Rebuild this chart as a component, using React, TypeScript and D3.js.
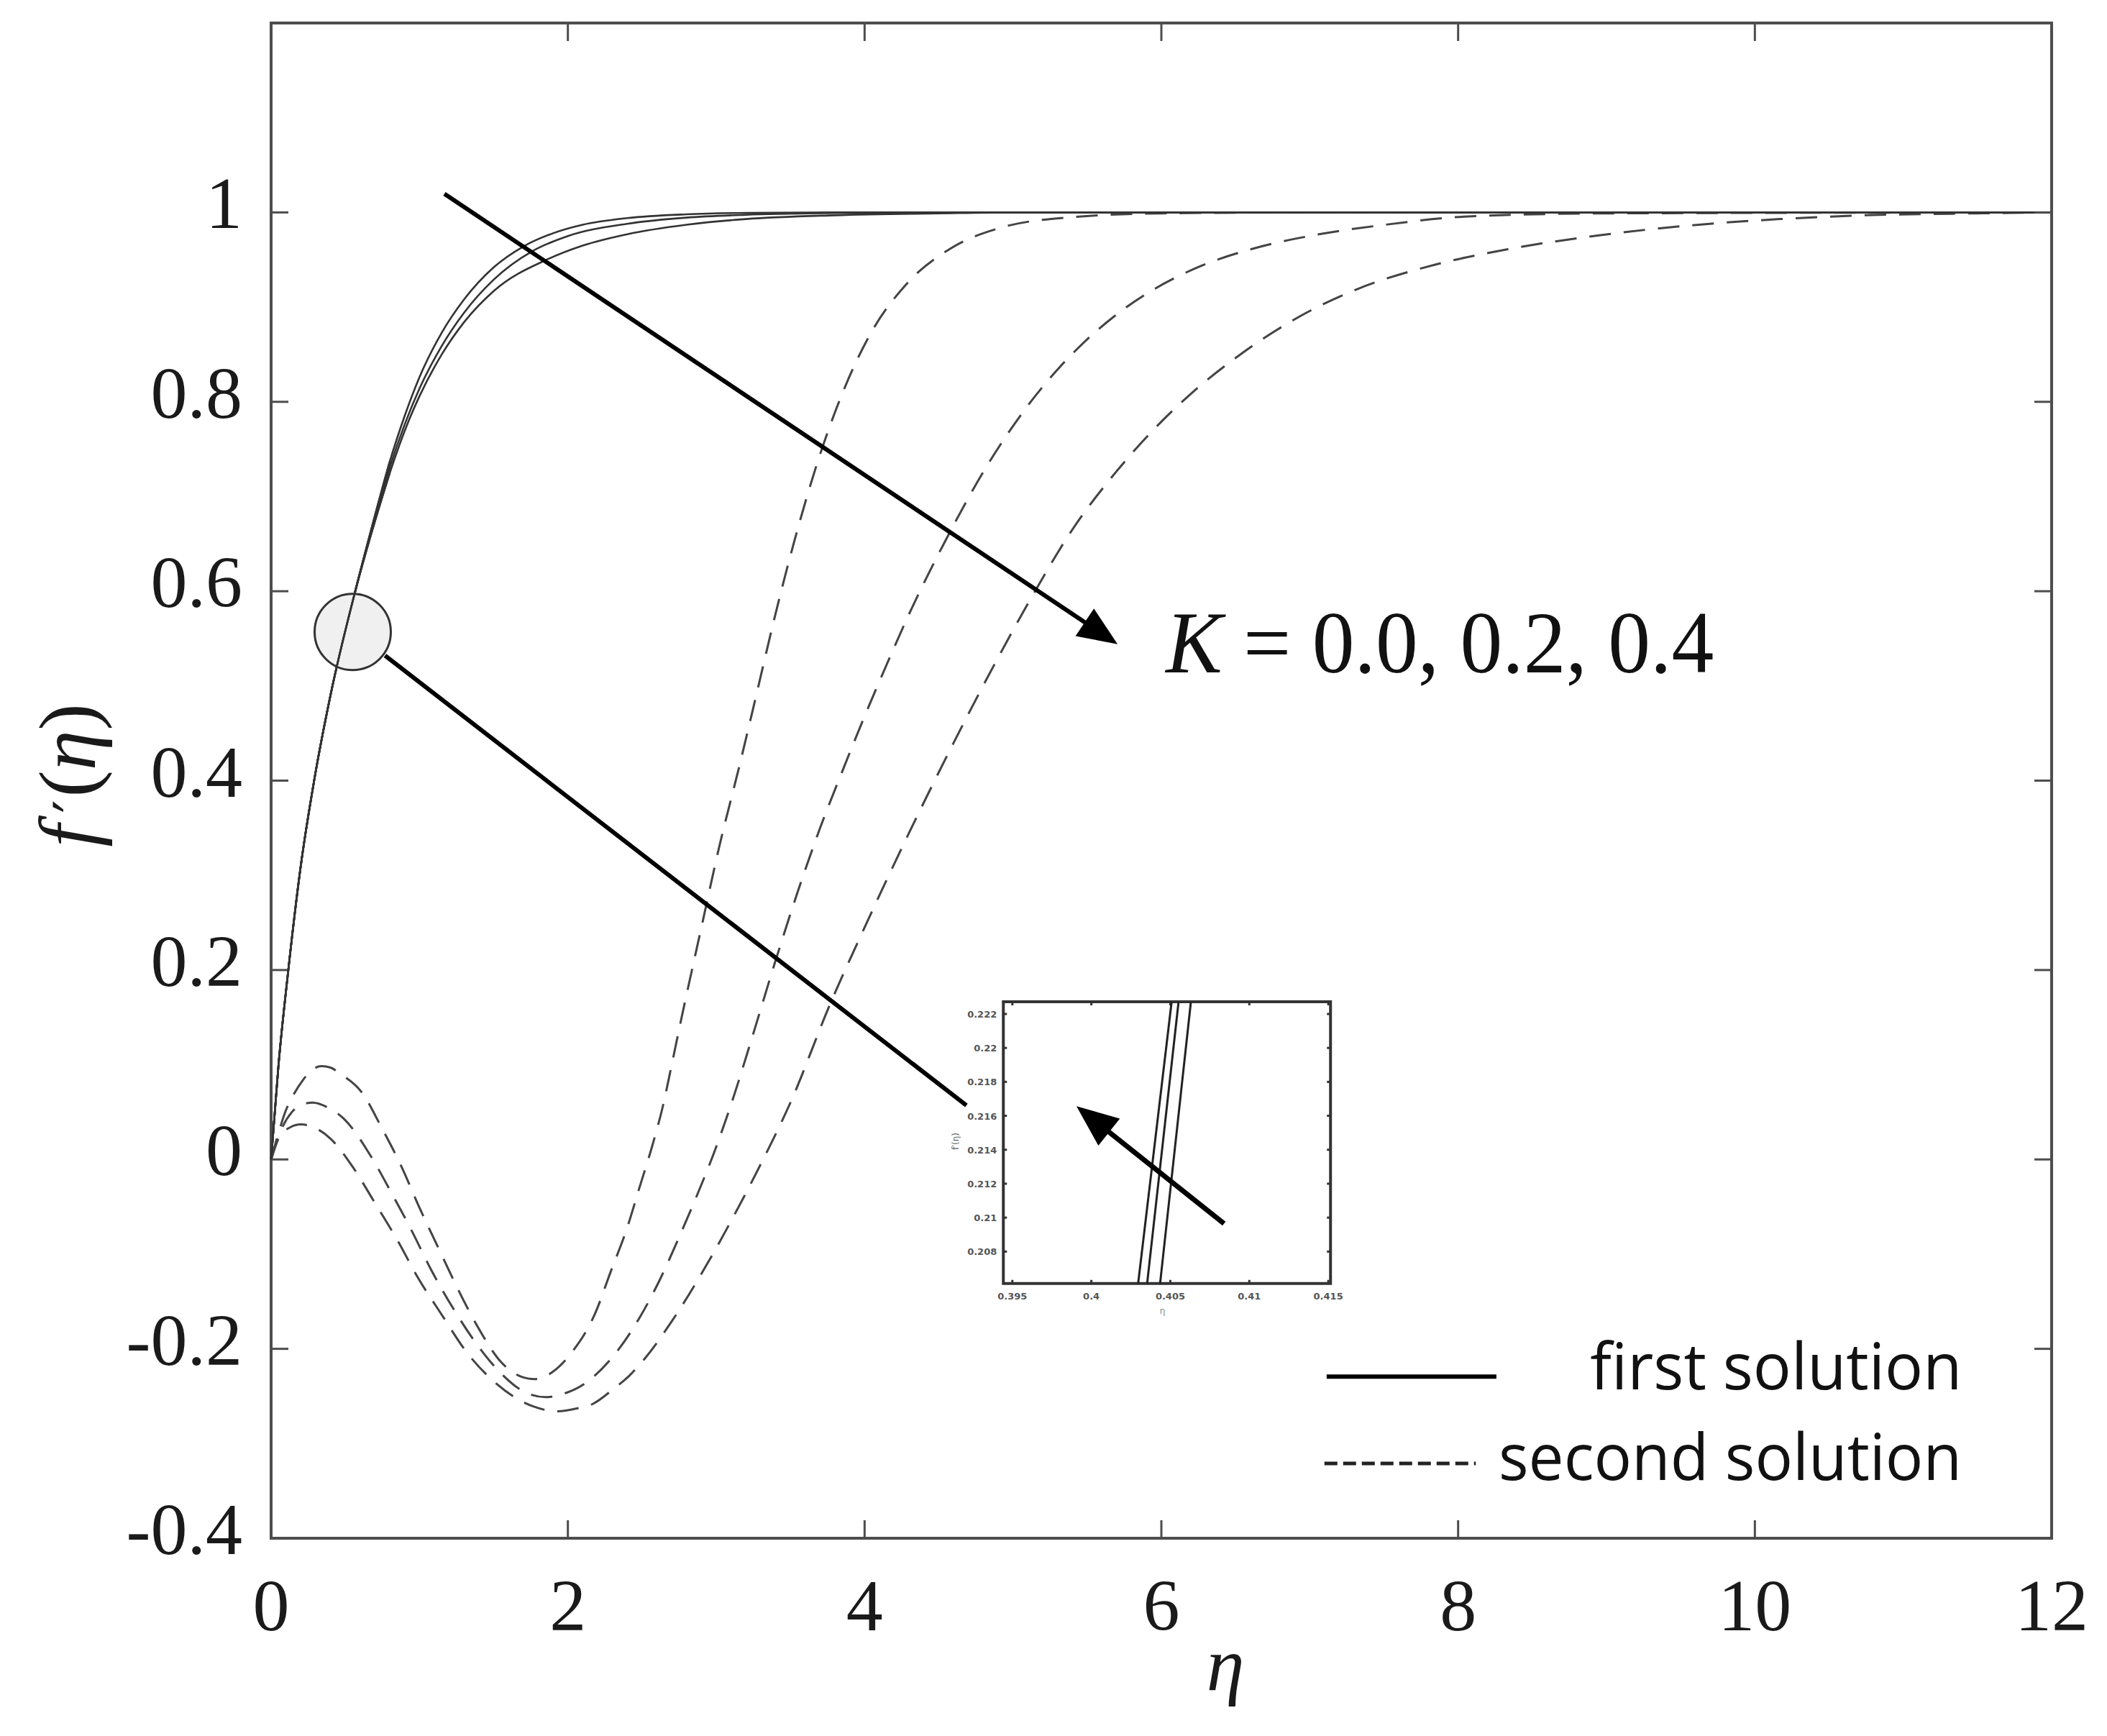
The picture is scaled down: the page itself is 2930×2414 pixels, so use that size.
import React from 'react';
import * as d3 from 'd3';

// ---------- axis ticks ----------
const xTicks = [0, 2, 4, 6, 8, 10, 12];
const xTickLabels = ['0', '2', '4', '6', '8', '10', '12'];
const yTicks = [-0.4, -0.2, 0, 0.2, 0.4, 0.6, 0.8, 1];
const yTickLabels = ['-0.4', '-0.2', '0', '0.2', '0.4', '0.6', '0.8', '1'];

// ---------- first solution (solid), K = 0.0, 0.2, 0.4 ----------
const etaFirstK0 = [0, 0.05, 0.116, 0.2, 0.29, 0.4, 0.567, 0.7, 0.8, 0.9, 1.0, 1.15, 1.3, 1.5, 1.7, 1.9, 2.1, 2.4, 2.8, 3.2, 3.8, 12];
const fFirstK0 = [0, 0.1, 0.2, 0.31, 0.4, 0.49, 0.6, 0.68, 0.737, 0.785, 0.826, 0.873, 0.908, 0.942, 0.964, 0.978, 0.987, 0.994, 0.998, 0.9995, 1, 1];
const etaFirstK2 = [0, 0.05, 0.116, 0.2, 0.29, 0.4, 0.567, 0.7, 0.8, 0.9, 1.0, 1.15, 1.3, 1.5, 1.76, 2.0, 2.4, 2.8, 3.2, 3.8, 4.5, 12];
const fFirstK2 = [0, 0.1, 0.2, 0.31, 0.4, 0.49, 0.6, 0.677, 0.731, 0.776, 0.814, 0.859, 0.894, 0.929, 0.959, 0.975, 0.988, 0.9945, 0.9975, 0.9993, 1, 1];
const etaFirstK4 = [0, 0.05, 0.116, 0.2, 0.29, 0.4, 0.567, 0.7, 0.8, 0.93, 1.0, 1.15, 1.3, 1.5, 1.87, 2.1, 2.4, 2.8, 3.2, 3.8, 4.5, 5, 12];
const fFirstK4 = [0, 0.1, 0.2, 0.31, 0.4, 0.49, 0.6, 0.674, 0.725, 0.781, 0.806, 0.85, 0.884, 0.917, 0.951, 0.965, 0.977, 0.987, 0.993, 0.997, 0.999, 1, 1];

// ---------- second solution (dashed), K = 0.0, 0.2, 0.4 ----------
const etaSecondK0 = [0, 0.05, 0.1, 0.15, 0.22, 0.28, 0.34, 0.4, 0.47, 0.61, 0.75, 0.88, 1.0, 1.12, 1.25, 1.39, 1.55, 1.68, 1.78, 1.9, 2.03, 2.18, 2.29, 2.4, 2.48, 2.57, 2.64, 2.7, 2.76, 2.9, 3.02, 3.16, 3.28, 3.39, 3.53, 3.67, 3.84, 4.04, 4.28, 4.58, 4.92, 5.4, 6.0, 7, 12];
const fSecondK0 = [0, 0.028, 0.052, 0.068, 0.085, 0.095, 0.0985, 0.097, 0.09, 0.071, 0.032, -0.008, -0.051, -0.091, -0.134, -0.176, -0.214, -0.229, -0.232, -0.224, -0.203, -0.164, -0.118, -0.072, -0.031, 0.015, 0.056, 0.1, 0.145, 0.245, 0.33, 0.418, 0.497, 0.57, 0.655, 0.73, 0.805, 0.872, 0.924, 0.962, 0.984, 0.995, 0.999, 1, 1];
const etaSecondK2 = [0, 0.07, 0.14, 0.21, 0.28, 0.38, 0.49, 0.67, 0.81, 0.95, 1.08, 1.23, 1.39, 1.55, 1.69, 1.85, 1.98, 2.12, 2.32, 2.48, 2.62, 2.75, 2.87, 2.98, 3.1, 3.25, 3.39, 3.55, 3.7, 3.85, 4.0, 4.15, 4.3, 4.55, 4.8, 5.1, 5.44, 5.68, 5.92, 6.26, 6.6, 7.03, 7.51, 8.04, 9, 12];
const fSecondK2 = [0, 0.032, 0.05, 0.058, 0.06, 0.055, 0.043, 0.004, -0.035, -0.076, -0.117, -0.158, -0.196, -0.226, -0.244, -0.251, -0.247, -0.236, -0.205, -0.168, -0.127, -0.082, -0.038, 0.005, 0.058, 0.133, 0.205, 0.283, 0.35, 0.41, 0.468, 0.523, 0.576, 0.655, 0.726, 0.796, 0.857, 0.89, 0.916, 0.943, 0.961, 0.976, 0.987, 0.9955, 0.999, 1];
const etaSecondK4 = [0, 0.06, 0.13, 0.2, 0.3, 0.4, 0.546, 0.7, 0.85, 0.99, 1.15, 1.315, 1.52, 1.77, 1.93, 2.06, 2.17, 2.31, 2.41, 2.52, 2.7, 2.94, 3.1, 3.3, 3.5, 3.77, 4.0, 4.3, 4.6, 4.9, 5.13, 5.4, 5.7, 6.0, 6.21, 6.55, 6.93, 7.32, 7.85, 8.33, 8.96, 9.58, 10.17, 10.74, 11.5, 12];
const fSecondK4 = [0, 0.025, 0.034, 0.037, 0.033, 0.022, -0.007, -0.046, -0.085, -0.125, -0.164, -0.203, -0.237, -0.261, -0.266, -0.263, -0.258, -0.242, -0.229, -0.21, -0.171, -0.11, -0.065, -0.005, 0.06, 0.165, 0.245, 0.345, 0.44, 0.53, 0.595, 0.665, 0.727, 0.779, 0.81, 0.852, 0.89, 0.919, 0.945, 0.961, 0.976, 0.9865, 0.993, 0.997, 0.999, 1];

// ---------- inset (zoom of first solutions) ----------
const insetXTicks = [0.395, 0.4, 0.405, 0.41, 0.415];
const insetXTickLabels = ['0.395', '0.4', '0.405', '0.41', '0.415'];
const insetYTicks = [0.222, 0.22, 0.218, 0.216, 0.214, 0.212, 0.21, 0.208];
const insetYTickLabels = ['0.222', '0.22', '0.218', '0.216', '0.214', '0.212', '0.21', '0.208'];
const insetEtaK0 = [0.40296, 0.40508];
const insetEtaK2 = [0.40353, 0.40552];
const insetEtaK4 = [0.40435, 0.4063];
const insetF = [0.2061, 0.2227];

const W = 2930;
const H = 2414;
const PL = 377, PR = 2853, PT = 32, PB = 2139;

function Arrow({ x1, y1, x2, y2, width, headLen, headW }: any) {
  const dx = x2 - x1, dy = y2 - y1;
  const len = Math.hypot(dx, dy);
  const ux = dx / len, uy = dy / len;
  const px = -uy, py = ux;
  const bx = x2 - ux * headLen, by = y2 - uy * headLen;
  return (
    <g>
      <line x1={x1} y1={y1} x2={bx + ux * 4} y2={by + uy * 4} stroke="#000" strokeWidth={width} />
      <polygon points={`${x2},${y2} ${bx + px * headW},${by + py * headW} ${bx - px * headW},${by - py * headW}`} fill="#000" />
    </g>
  );
}

export default function App() {
  const x = d3.scaleLinear().domain([0, 12]).range([PL, PR]);
  const y = d3.scaleLinear().domain([-0.4, 1.2]).range([PB, PT]);
  const line = d3.line<[number, number]>().x(d => x(d[0])).y(d => y(d[1])).curve(d3.curveMonotoneX);
  const zip = (a: number[], b: number[]) => a.map((v, i) => [v, b[i]] as [number, number]);

  const firsts = [zip(etaFirstK0, fFirstK0), zip(etaFirstK2, fFirstK2), zip(etaFirstK4, fFirstK4)];
  const seconds = [zip(etaSecondK0, fSecondK0), zip(etaSecondK2, fSecondK2), zip(etaSecondK4, fSecondK4)];

  // inset placement in main-axis coordinates
  const ix = d3.scaleLinear().domain([0.39443, 0.41514]).range([x(4.935), x(7.14)]);
  const iy = d3.scaleLinear().domain([0.20612, 0.22272]).range([y(-0.131), y(0.1665)]);
  const iline = d3.line<[number, number]>().x(d => ix(d[0])).y(d => iy(d[1]));
  const insetLines = [zip(insetEtaK0, insetF), zip(insetEtaK2, insetF), zip(insetEtaK4, insetF)];
  const iL = ix.range()[0], iR = ix.range()[1], iT = iy.range()[1], iB = iy.range()[0];

  const serif = "'Liberation Serif', 'DejaVu Serif', serif";
  const sans = "'Open Sans', 'Noto Sans', sans-serif";
  const axisColor = '#4d4d4d';

  return (
    <svg width={W} height={H} style={{ position: 'absolute', left: 0, top: 0, background: '#fff' }}>
      <rect x={0} y={0} width={W} height={H} fill="#fff" />
      <defs>
        <clipPath id="plotclip">
          <rect x={PL} y={PT} width={PR - PL} height={PB - PT} />
        </clipPath>
      </defs>

      {/* curves */}
      <g clipPath="url(#plotclip)">
        {seconds.map((s, i) => (
          <path key={'s' + i} d={line(s) || ''} fill="none" stroke="#444" strokeWidth={3} strokeDasharray="30 18" />
        ))}
        {firsts.map((s, i) => (
          <path key={'f' + i} d={line(s) || ''} fill="none" stroke="#333" strokeWidth={2.6} />
        ))}
      </g>

      {/* frame */}
      <rect x={PL} y={PT} width={PR - PL} height={PB - PT} fill="none" stroke={axisColor} strokeWidth={4} />
      {xTicks.map(t => (
        <g key={'xt' + t}>
          <line x1={x(t)} x2={x(t)} y1={PB} y2={PB - 25} stroke={axisColor} strokeWidth={3} />
          <line x1={x(t)} x2={x(t)} y1={PT} y2={PT + 25} stroke={axisColor} strokeWidth={3} />
        </g>
      ))}
      {yTicks.map(t => (
        <g key={'yt' + t}>
          <line x1={PL} x2={PL + 24} y1={y(t)} y2={y(t)} stroke={axisColor} strokeWidth={3} />
          <line x1={PR} x2={PR - 24} y1={y(t)} y2={y(t)} stroke={axisColor} strokeWidth={3} />
        </g>
      ))}
      {xTicks.map((t, i) => (
        <text key={'xl' + t} x={x(t)} y={2267} textAnchor="middle" fontFamily={serif} fontSize={102} fill="#1a1a1a">{xTickLabels[i]}</text>
      ))}
      {yTicks.map((t, i) => (
        <text key={'yl' + t} x={337} y={y(t) + 22} textAnchor="end" fontFamily={serif} fontSize={102} fill="#1a1a1a">{yTickLabels[i]}</text>
      ))}

      {/* axis titles */}
      <text x={1704} y={2350} textAnchor="middle" fontFamily={serif} fontSize={106} fontStyle="italic" fill="#1a1a1a">η</text>
      <text transform="translate(132,1078) rotate(-90)" textAnchor="middle" fontFamily={serif} fontSize={112} fill="#1a1a1a">
        <tspan fontStyle="italic">f</tspan>
        <tspan dx={16} fontFamily="'DejaVu Serif', serif" fontSize={80}>′</tspan>
        <tspan dx={4}>(</tspan>
        <tspan fontStyle="italic">η</tspan>
        <tspan>)</tspan>
      </text>

      {/* annotation: K arrow */}
      <Arrow x1={x(1.168)} y1={y(1.0196)} x2={x(5.705)} y2={y(0.544)} width={6} headLen={55} headW={23} />
      <text x={x(6.03)} y={y(0.514)} fontFamily={serif} fontSize={122} fill="#111" textLength={762} lengthAdjust="spacingAndGlyphs">
        <tspan fontStyle="italic" fontFamily={serif}>K</tspan>
        <tspan fontFamily={serif}> = 0.0, 0.2, 0.4</tspan>
      </text>

      {/* magnifier circle and connector */}
      <line x1={x(0.768)} y1={y(0.532)} x2={x(4.686)} y2={y(0.0571)} stroke="#000" strokeWidth={6} />
      <circle cx={x(0.55)} cy={y(0.557)} r={53} fill="#f0f0f0" stroke="#333" strokeWidth={3} />
      {firsts.map((s, i) => (
        <path key={'fc' + i} d={line(s.filter(p => p[0] <= 0.8)) || ''} fill="none" stroke="#333" strokeWidth={2.6} />
      ))}

      {/* inset */}
      <g>
        <rect x={iL} y={iT} width={iR - iL} height={iB - iT} fill="#fff" stroke="#333" strokeWidth={4} />
        {insetXTicks.map((t, i) => (
          <g key={'ixt' + t}>
            <line x1={ix(t)} x2={ix(t)} y1={iB} y2={iB - 5} stroke="#333" strokeWidth={3} />
            <line x1={ix(t)} x2={ix(t)} y1={iT} y2={iT + 5} stroke="#333" strokeWidth={3} />
            <text x={ix(t)} y={iB + 22} textAnchor="middle" fontFamily="'DejaVu Sans', sans-serif" fontSize={13} fontWeight="bold" fill="#555">{insetXTickLabels[i]}</text>
          </g>
        ))}
        {insetYTicks.map((t, i) => (
          <g key={'iyt' + t}>
            <line x1={iL} x2={iL + 5} y1={iy(t)} y2={iy(t)} stroke="#333" strokeWidth={3} />
            <line x1={iR} x2={iR - 5} y1={iy(t)} y2={iy(t)} stroke="#333" strokeWidth={3} />
            <text x={iL - 9} y={iy(t) + 5} textAnchor="end" fontFamily="'DejaVu Sans', sans-serif" fontSize={13} fontWeight="bold" fill="#555">{insetYTickLabels[i]}</text>
          </g>
        ))}
        <text x={ix(0.4045)} y={iB + 42} textAnchor="middle" fontFamily="'DejaVu Sans', sans-serif" fontSize={12} fill="#888">η</text>
        <text transform={`translate(${iL - 62},${iy(0.2145)}) rotate(-90)`} textAnchor="middle" fontFamily="'DejaVu Sans', sans-serif" fontSize={12} fill="#666">f′(η)</text>
        {insetLines.map((s, i) => (
          <path key={'il' + i} d={iline(s) || ''} fill="none" stroke="#222" strokeWidth={3} />
        ))}
        <Arrow x1={ix(0.4084)} y1={iy(0.20965)} x2={ix(0.39906)} y2={iy(0.21657)} width={7} headLen={58} headW={24} />
      </g>

      {/* legend */}
      <line x1={x(7.114)} x2={x(8.258)} y1={y(-0.2294)} y2={y(-0.2294)} stroke="#000" strokeWidth={6} />
      <text x={x(8.89)} y={y(-0.2426)} fontFamily={sans} fontSize={90} fill="#111" textLength={517} lengthAdjust="spacingAndGlyphs">first solution</text>
      <line x1={x(7.099)} x2={x(8.119)} y1={y(-0.3211)} y2={y(-0.3211)} stroke="#222" strokeWidth={5} strokeDasharray="18 8" />
      <text x={x(8.273)} y={y(-0.3388)} fontFamily={sans} fontSize={90} fill="#111" textLength={644} lengthAdjust="spacingAndGlyphs">second solution</text>
    </svg>
  );
}
